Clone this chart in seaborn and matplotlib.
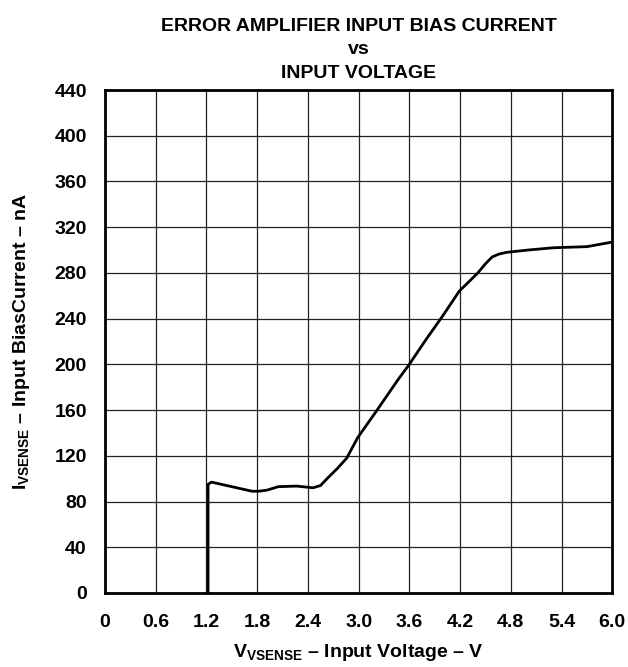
import matplotlib
matplotlib.use("Agg")
import matplotlib.pyplot as plt
import seaborn as sns
import pandas as pd

# Error amplifier input bias current vs. input voltage
voltage = [1.22, 1.22, 1.26, 1.50, 1.74, 1.82, 1.92, 2.05, 2.27, 2.46, 2.55,
           2.64, 2.75, 2.86, 2.99, 3.20, 3.47, 3.59, 3.80, 4.00, 4.19,
           4.30, 4.41, 4.50, 4.58, 4.66, 4.75, 5.00, 5.30, 5.70, 6.00]
bias_current = [0, 95, 97, 93, 89, 89, 90, 93, 93.5, 92, 94,
                101, 109, 118, 136, 158, 187, 199, 222, 243, 264,
                272, 280, 288, 294, 296.5, 298, 300, 302, 303, 307]

x_ticks = [0, 0.6, 1.2, 1.8, 2.4, 3.0, 3.6, 4.2, 4.8, 5.4, 6.0]
x_tick_labels = ["0", "0.6", "1.2", "1.8", "2.4", "3.0", "3.6", "4.2", "4.8", "5.4", "6.0"]
y_ticks = [0, 40, 80, 120, 160, 200, 240, 280, 320, 360, 400, 440]

sns.set_theme(style="white")
plt.rcParams["font.family"] = ["Liberation Sans", "DejaVu Sans"]
plt.rcParams["font.weight"] = "bold"
plt.rcParams["mathtext.fontset"] = "custom"
plt.rcParams["mathtext.rm"] = "Liberation Sans:bold"
plt.rcParams["mathtext.it"] = "Liberation Sans:bold"
plt.rcParams["mathtext.bf"] = "Liberation Sans:bold"

FS = 14

df = pd.DataFrame({"V": voltage, "I": bias_current})

fig = plt.figure(figsize=(6.28, 6.67), dpi=100)
ax = fig.add_axes([0.167, 0.111, 0.808, 0.754])

sns.lineplot(data=df, x="V", y="I", sort=False, estimator=None,
             color="black", linewidth=2.0, ax=ax)

ax.set_xlim(0, 6.0)
ax.set_ylim(0, 440)
ax.set_xticks(x_ticks)
ax.set_xticklabels(x_tick_labels)
ax.set_yticks(y_ticks)
ax.grid(True, color="#222222", linewidth=0.9)
for s in ax.spines.values():
    s.set_color("black")
    s.set_linewidth(2.0)
ax.tick_params(axis="x", length=0, labelsize=FS, pad=15, colors="black")
ax.tick_params(axis="y", length=0, labelsize=FS, pad=13, colors="black")
for lbl in ax.get_xticklabels() + ax.get_yticklabels():
    lbl.set_fontweight("bold")

ax.set_xlabel(r"$\mathrm{V_{VSENSE}}$ – Input Voltage – V", fontsize=FS,
              fontweight="bold", labelpad=8, color="black")
ax.set_ylabel(r"$\mathrm{I_{VSENSE}}$ – Input BiasCurrent – nA", fontsize=FS,
              fontweight="bold", labelpad=16, color="black")
ax.set_title("ERROR AMPLIFIER INPUT BIAS CURRENT\nvs\nINPUT VOLTAGE",
             fontsize=FS, fontweight="bold", linespacing=1.5, pad=9, color="black")

fig.savefig("out.png", dpi=100)
